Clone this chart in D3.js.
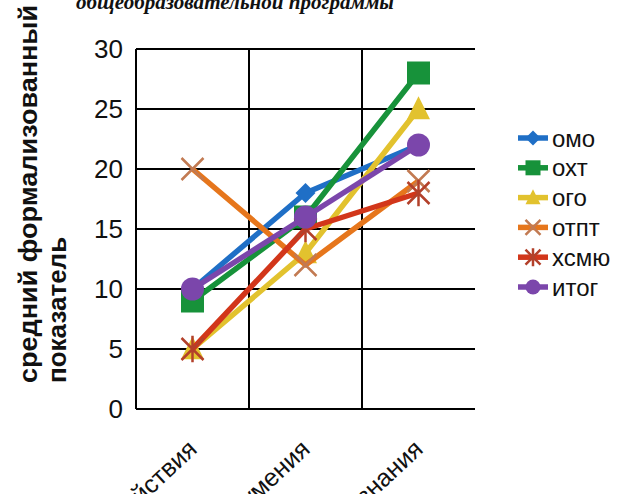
<!DOCTYPE html>
<html><head><meta charset="utf-8">
<script src="https://cdn.jsdelivr.net/npm/d3@7"></script>
<style>body{margin:0;background:#fff;overflow:hidden}svg{display:block}</style>
</head><body>
<svg id="c" width="621" height="494"></svg>
<script>
const categories = ["универсальные учебные действия", "навыки и умения", "уровень знания"];
const seriesNames = ["омо", "охт", "ого", "отпт", "хсмю", "итог"];
const omo  = [10, 18, 22];
const oht  = [9, 16, 28];
const ogo  = [5, 13, 25];
const otpt = [20, 12, 19];
const hsmu = [5, 15, 18];
const itog = [10, 16, 22];
const yTicks = [0, 5, 10, 15, 20, 25, 30];
const yTitle = ["средний формализованный", "показатель"];
const topTitle = "общеобразовательной программы";

const seriesValues = [omo, oht, ogo, otpt, hsmu, itog];
const colors = ["#1f6fc6", "#17923a", "#e2c22e", "#e6761c", "#d2361a", "#7b46ab"];
const symbolColors = ["#1f6fc6", "#17923a", "#e2c22e", "#c27a52", "#b3402a", "#7b46ab"];
const shapes = ["diamond", "square", "triangle", "x", "star", "circle"];

const svg = d3.select("#c");
const L = 136, R = 475, T = 49, B = 409;
const x = d3.scaleBand().domain(categories).range([L, R]).padding(0);
const y = d3.scaleLinear().domain([0, 30]).range([B, T]);
const font = "'Liberation Sans', Arial, sans-serif";

// top title (cropped by the top edge)
svg.append("text").attr("x", 76).attr("y", 9)
  .attr("font-family", "'Liberation Serif', serif").attr("font-style", "italic").attr("font-weight", "bold")
  .attr("font-size", 22).attr("textLength", 318).attr("lengthAdjust", "spacingAndGlyphs")
  .attr("fill", "#111").text(topTitle);

// gridlines
const g = svg.append("g");
g.selectAll("line.h").data(yTicks).join("line")
  .attr("x1", L).attr("x2", R).attr("y1", d => y(d)).attr("y2", d => y(d))
  .attr("stroke", "#000").attr("stroke-width", 2);
const vb = categories.map(c => x(c));
g.selectAll("line.v").data(vb).join("line")
  .attr("x1", d => d).attr("x2", d => d).attr("y1", T).attr("y2", B)
  .attr("stroke", "#000").attr("stroke-width", 2);

// y axis labels
const yAxis = d3.axisLeft(y).tickValues(yTicks).tickSize(0).tickPadding(13);
const ya = svg.append("g").attr("transform", `translate(${L},0)`).call(yAxis);
ya.select(".domain").remove();
ya.selectAll("text").attr("font-family", font).attr("font-size", 26).attr("fill", "#111");

// x axis labels
const xa = svg.append("g").attr("transform", `translate(0,${B})`)
  .call(d3.axisBottom(x).tickSize(0).tickPadding(0));
xa.select(".domain").remove();
xa.selectAll("text").attr("font-family", font).attr("font-size", 25).attr("fill", "#111")
  .attr("text-anchor", "end")
  .attr("transform", "translate(6,42) rotate(-43)").attr("dy", 0);

// y title
yTitle.forEach((t, i) => {
  const tt = svg.append("text").attr("transform", `translate(${37 + i * 29},383) rotate(-90)`)
    .attr("font-family", font).attr("font-weight", "bold").attr("font-size", 26)
    .attr("fill", "#111").text(t);
  if (i === 0) tt.attr("textLength", 378).attr("lengthAdjust", "spacingAndGlyphs");
});

function drawMarker(sel, shape, color, scol, s) {
  if (shape === "diamond") {
    sel.append("path").attr("d", `M0,${-s}L${s},0L0,${s}L${-s},0Z`).attr("fill", color);
  } else if (shape === "square") {
    sel.append("rect").attr("x", -s).attr("y", -s).attr("width", 2 * s).attr("height", 2 * s).attr("fill", color);
  } else if (shape === "triangle") {
    sel.append("path").attr("d", `M0,${-s * 1.1}L${s},${s * 0.9}L${-s},${s * 0.9}Z`).attr("fill", color);
  } else if (shape === "circle") {
    sel.append("circle").attr("r", s).attr("fill", color);
  } else if (shape === "x") {
    sel.append("path").attr("d", `M${-s},${-s}L${s},${s}M${s},${-s}L${-s},${s}`)
      .attr("stroke", scol).attr("stroke-width", 2.5).attr("fill", "none");
  } else if (shape === "star") {
    sel.append("path").attr("d", `M${-s},${-s}L${s},${s}M${s},${-s}L${-s},${s}M0,${-s * 1.2}L0,${s * 1.2}`)
      .attr("stroke", scol).attr("stroke-width", 2.5).attr("fill", "none");
  }
}

const line = d3.line().x((d, i) => x(categories[i]) + x.bandwidth() / 2).y(d => y(d));
seriesValues.forEach((vals, si) => {
  svg.append("path").datum(vals).attr("d", line).attr("fill", "none")
    .attr("stroke", colors[si]).attr("stroke-width", 5.5).attr("stroke-linejoin", "round");
  vals.forEach((v, i) => {
    const m = svg.append("g").attr("transform", `translate(${x(categories[i]) + x.bandwidth() / 2},${y(v)})`);
    const sz = shapes[si] === "diamond" ? 10 : (shapes[si] === "x" || shapes[si] === "star") ? 11 : 11.5;
    drawMarker(m, shapes[si], colors[si], symbolColors[si], sz);
  });
});

// legend
const lg = svg.append("g");
seriesNames.forEach((n, i) => {
  const yy = 138 + i * 29.8;
  lg.append("line").attr("x1", 518).attr("x2", 548).attr("y1", yy).attr("y2", yy)
    .attr("stroke", colors[i]).attr("stroke-width", 5.5);
  const m = lg.append("g").attr("transform", `translate(533,${yy})`);
  drawMarker(m, shapes[i], colors[i], symbolColors[i], 7.5);
  lg.append("text").attr("x", 552).attr("y", yy).attr("dy", "0.36em")
    .attr("font-family", font).attr("font-size", 24).attr("fill", "#111").text(n);
});
</script>
</body></html>
